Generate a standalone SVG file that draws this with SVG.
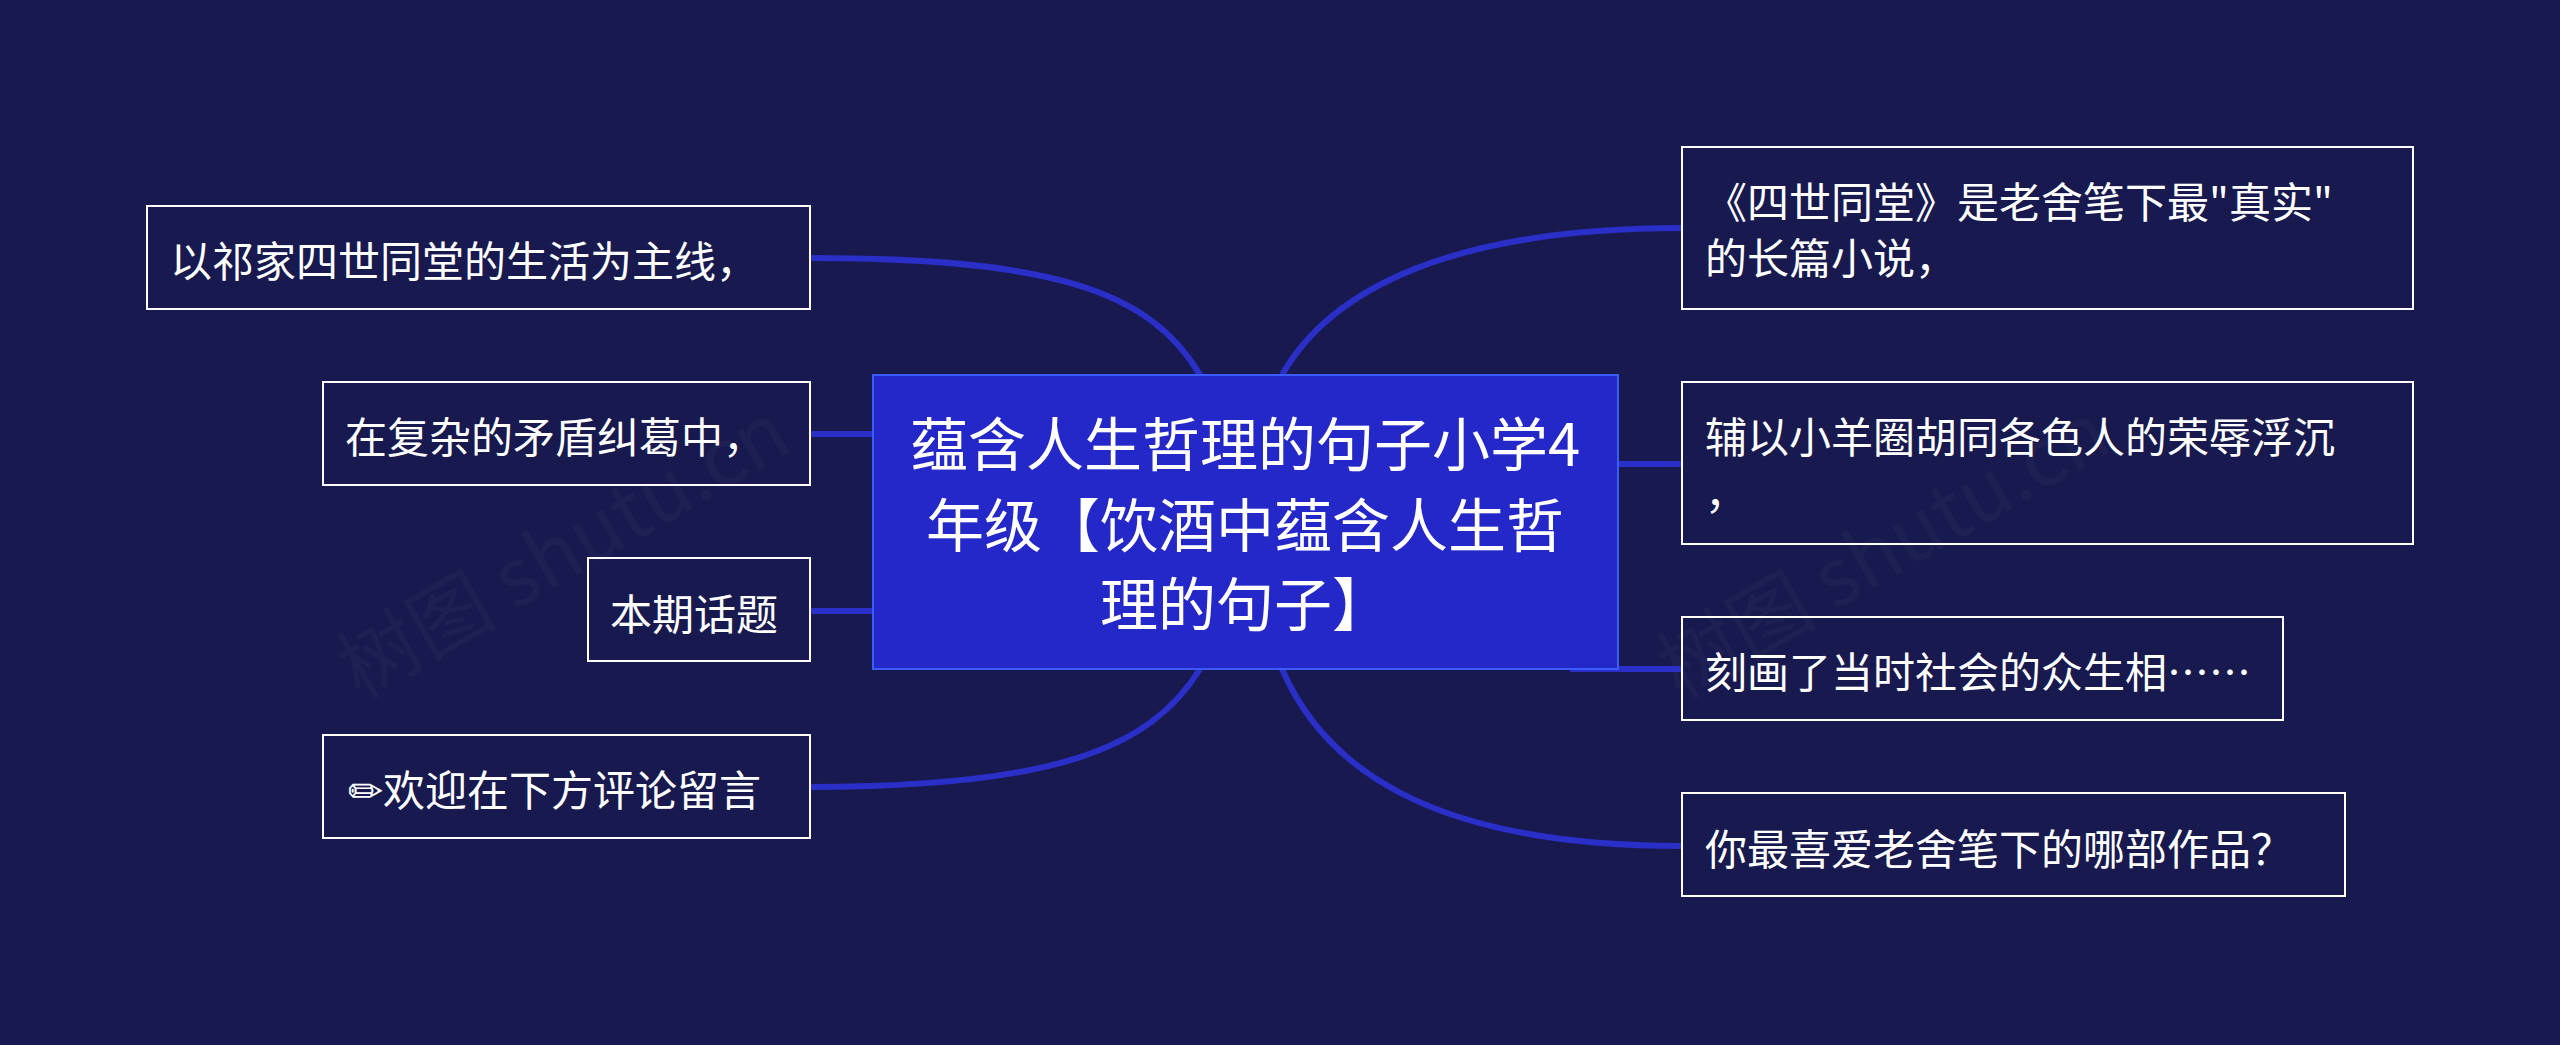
<svg xmlns="http://www.w3.org/2000/svg" width="2560" height="1045" viewBox="0 0 2560 1045">
<style>
.bg{fill:#181a4f}
.box{fill:none;stroke:#ffffff;stroke-width:2}
.t{font-family:"Noto Sans CJK SC","Liberation Sans",sans-serif;fill:#ffffff;font-size:42px;dominant-baseline:central}
.c{font-size:58px;text-anchor:middle}
.ln{fill:none;stroke:#2a2fc8;stroke-width:6}
.wm{font-family:"Noto Sans CJK SC","Liberation Serif",serif;font-size:80px;fill:#ffffff;opacity:0.025}
</style>
<rect class="bg" width="2560" height="1045"/>
<text class="wm" transform="translate(360,700) rotate(-30)">树图 shutu.cn</text>
<text class="wm" transform="translate(1680,700) rotate(-30)">树图 shutu.cn</text>
<g id="connectors">
<path class="ln" d="M810,258 C1050,258 1150,290 1200,375"/>
<path class="ln" d="M810,434 L873,434"/>
<path class="ln" d="M810,611 L873,611"/>
<path class="ln" d="M810,787 C1050,787 1150,750 1200,669"/>
<path class="ln" d="M1282,375 C1330,290 1450,228 1682,228"/>
<path class="ln" d="M1618,464 L1682,464"/>
<path class="ln" d="M1570,669 L1682,669"/>
<path class="ln" d="M1282,669 C1330,780 1450,846 1682,846"/>
</g>
<g id="center">
<rect x="873" y="375" width="745" height="294" fill="#2528c8" stroke="#3a5cff" stroke-width="2"/>
<text class="t c" x="1245" y="441">蕴含人生哲理的句子小学4</text>
<text class="t c" x="1245" y="522">年级【饮酒中蕴含人生哲</text>
<text class="t c" x="1245" y="601">理的句子】</text>
</g>
<g id="l1"><rect class="box" x="147" y="206" width="663" height="103"/><text class="t" x="170" y="258">以祁家四世同堂的生活为主线，</text></g>
<g id="l2"><rect class="box" x="323" y="382" width="487" height="103"/><text class="t" x="345" y="434">在复杂的矛盾纠葛中，</text></g>
<g id="l3"><rect class="box" x="588" y="558" width="222" height="103"/><text class="t" x="610" y="611">本期话题</text></g>
<g id="l4"><rect class="box" x="323" y="735" width="487" height="103"/><text class="t" x="348" y="787">✏欢迎在下方评论留言</text></g>
<g id="r1"><rect class="box" x="1682" y="147" width="731" height="162"/><text class="t" x="1705" y="199">《四世同堂》是老舍笔下最"真实"</text><text class="t" x="1705" y="255">的长篇小说，</text></g>
<g id="r2"><rect class="box" x="1682" y="382" width="731" height="162"/><text class="t" x="1705" y="434">辅以小羊圈胡同各色人的荣辱浮沉</text><text class="t" x="1705" y="490">，</text></g>
<g id="r3"><rect class="box" x="1682" y="617" width="601" height="103"/><text class="t" x="1705" y="669">刻画了当时社会的众生相……</text></g>
<g id="r4"><rect class="box" x="1682" y="793" width="663" height="103"/><text class="t" x="1705" y="846">你最喜爱老舍笔下的哪部作品？</text></g>
</svg>
